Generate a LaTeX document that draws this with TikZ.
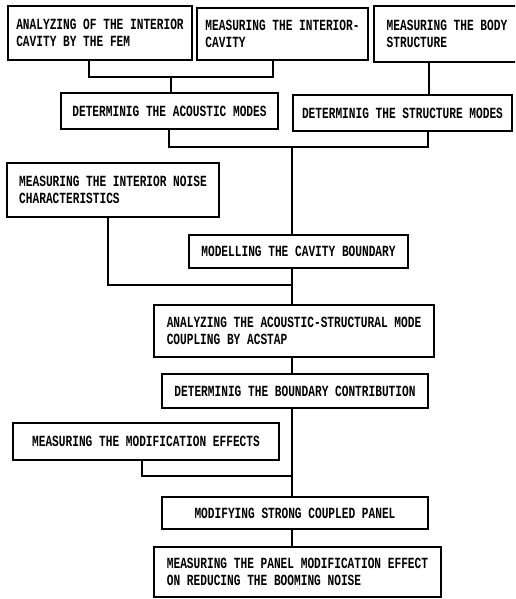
\documentclass[tikz,border=0pt]{standalone}
\usepackage{fontspec}
\newfontfamily\tw[FakeStretch=0.72]{Liberation Mono}
\begin{document}
\begin{tikzpicture}[x=1pt,y=-1pt,
  box/.style={draw, line width=1.6pt, inner sep=0pt, align=left,
    font=\tw\bfseries\fontsize{15.5}{17.5}\selectfont},
  conn/.style={line width=1.4pt}]
\useasboundingbox (0,0) rectangle (515,599);
\fill[white] (0,0) rectangle (515,599);
\clip (0,0) rectangle (515,599);
\node[box, minimum width=184pt, minimum height=54pt] (n1) at (100,33) {ANALYZING OF THE INTERIOR\\CAVITY BY THE FEM};
\node[box, minimum width=171pt, minimum height=52pt] (n2) at (282.5,34) {MEASURING THE INTERIOR-\\CAVITY\hphantom{ THE INTERIOR-}};
\node[box, minimum width=146pt, minimum height=56pt] (n3) at (447,34) {MEASURING THE BODY\\STRUCTURE};
\node[box, minimum width=217pt, minimum height=36pt] (n4) at (169.5,111) {DETERMINIG THE ACOUSTIC MODES};
\node[box, minimum width=219pt, minimum height=36pt] (n5) at (402.5,113) {DETERMINIG THE STRUCTURE MODES};
\node[box, minimum width=212pt, minimum height=54pt] (n6) at (113,190) {MEASURING THE INTERIOR NOISE\\CHARACTERISTICS};
\node[box, minimum width=219pt, minimum height=33pt] (n7) at (298.5,251.5) {MODELLING THE CAVITY BOUNDARY};
\node[box, minimum width=280pt, minimum height=52pt] (n8) at (294,331) {ANALYZING THE ACOUSTIC-STRUCTURAL MODE\\COUPLING BY ACSTAP};
\node[box, minimum width=266pt, minimum height=34pt] (n9) at (295,391) {DETERMINIG THE BOUNDARY CONTRIBUTION};
\node[box, minimum width=266pt, minimum height=37pt] (n10) at (146,441.5) {MEASURING THE MODIFICATION EFFECTS};
\node[box, minimum width=266pt, minimum height=32pt] (n11) at (295,513) {MODIFYING STRONG COUPLED PANEL};
\node[box, minimum width=287pt, minimum height=50pt] (n12) at (297.5,572) {MEASURING THE PANEL MODIFICATION EFFECT\\ON REDUCING THE BOOMING NOISE};
\coordinate (a1) at (89,77);
\coordinate (a2) at (273,77);
\coordinate (a3) at (171,77);
\coordinate (b1) at (429,80);
\coordinate (c1) at (169,147);
\coordinate (c2) at (428,147);
\coordinate (c3) at (292,147);
\coordinate (d1) at (108,285);
\coordinate (d2) at (292,285);
\coordinate (e1) at (142,476);
\coordinate (e2) at (292,476);
\draw[conn] (n1.south -| a1) -- (a1) -- (a2) -- (n2.south -| a2);
\draw[conn] (a3) -- (n4.north -| a3);
\draw[conn] (n3.south -| b1) -- (n5.north -| b1);
\draw[conn] (n4.south -| c1) -- (c1) -- (c2) -- (n5.south -| c2);
\draw[conn] (c3) -- (n7.north -| c3);
\draw[conn] (n6.south -| d1) -- (d1) -- (d2);
\draw[conn] (n7.south -| d2) -- (n8.north -| d2);
\draw[conn] (n8.south -| d2) -- (n9.north -| d2);
\draw[conn] (n9.south -| d2) -- (n11.north -| d2);
\draw[conn] (n10.south -| e1) -- (e1) -- (e2);
\draw[conn] (n11.south -| d2) -- (n12.north -| d2);
\end{tikzpicture}
\end{document}
